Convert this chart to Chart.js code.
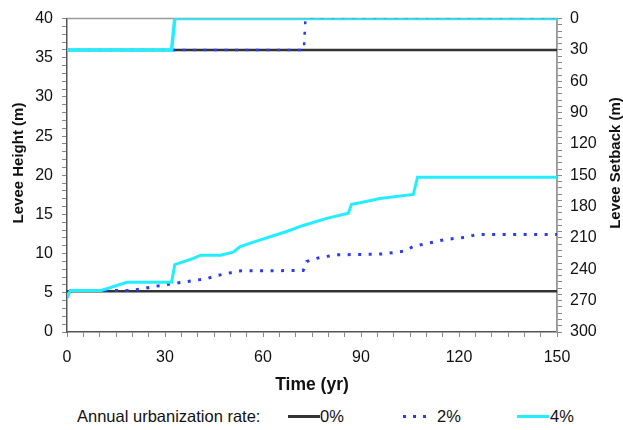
<!DOCTYPE html>
<html>
<head>
<meta charset="utf-8">
<script src="https://cdn.jsdelivr.net/npm/chart.js@4"></script>
<style>
  body { margin: 0; background: #fff; font-family: "Liberation Sans", Arial, sans-serif; }
  #wrap { position: relative; width: 623px; height: 430px; }
  #box { position: absolute; left: 0; top: 0; width: 623px; height: 400px; }
  .lg { position: absolute; font-size: 16.5px; color: #111; line-height: 20px; top: 406px; white-space: nowrap; }
  .sw { position: absolute; top: 415px; height: 2.5px; }
</style>
</head>
<body>
<div id="wrap">
  <div id="box"><canvas id="chart"></canvas></div>
  <span class="lg" style="left:77px">Annual urbanization rate:</span>
  <span class="sw" style="left:288px;width:32px;background:#333"></span>
  <span class="lg" style="left:320px">0%</span>
  <span class="sw" style="left:403px;width:26px;background:repeating-linear-gradient(to right,#2b3bef 0 3px,transparent 3px 10px)"></span>
  <span class="lg" style="left:437px">2%</span>
  <span class="sw" style="left:517px;width:32px;background:#22eeff"></span>
  <span class="lg" style="left:550px">4%</span>
</div>
<script>
// Levee height (m) vs time (yr), one pair of arrays per urbanization rate
const yearsH0 = [0, 150];
const height0 = [5.2, 5.2];

const yearsH2 = [0, 1, 13, 19.8, 22.8, 25.9, 32.5, 35.6, 39.2, 42.8, 45.8, 48.9, 52.4, 72.3, 73.4, 76.4, 79.5, 83, 96.3, 103, 106, 109, 112.4, 115.7, 119, 122.3, 125.4, 150];
const height2 = [4.4, 5.3, 5.3, 5.3, 5.5, 5.75, 6.2, 6.35, 6.6, 6.8, 7.2, 7.45, 7.8, 7.85, 9.0, 9.4, 9.65, 9.85, 9.95, 10.3, 10.9, 11.2, 11.5, 11.8, 11.95, 12.1, 12.45, 12.45];

const yearsH4 = [0, 1, 10.5, 18.3, 32, 33, 38.7, 40.9, 47, 50.9, 53, 58, 67, 72.3, 79.5, 86.1, 87.1, 89.7, 95.8, 106, 107.3, 150];
const height4 = [4.4, 5.3, 5.3, 6.35, 6.35, 8.6, 9.4, 9.8, 9.8, 10.2, 10.9, 11.6, 12.8, 13.6, 14.5, 15.15, 16.3, 16.5, 17.05, 17.55, 19.75, 19.75];

// Levee setback (m) vs time (yr)
const yearsS0 = [0, 150];
const setback0 = [30, 30];
const yearsS2 = [0, 72.5, 73, 150];
const setback2 = [30, 30, 0, 0];
const yearsS4 = [0, 32, 33, 150];
const setback4 = [30, 30, 0, 0];

const rateLabels = ['0%', '2%', '4%'];
const xTickLabels = [0, 30, 60, 90, 120, 150];

const black = '#333333';
const blue = '#2b3bef';
const cyan = '#22eeff';
const fontName = '"Liberation Sans", Arial, sans-serif';

function toPoints(xs, ys) {
    return xs.map((x, i) => ({ x: x, y: ys[i] }));
}

// Frame around the plot area and the two rotated axis titles
const framePlugin = {
    id: 'frame',
    beforeDatasetsDraw(chart) {
        const a = chart.chartArea;
        const ctx = chart.ctx;
        ctx.save();
        ctx.strokeStyle = '#9a9a9a';
        ctx.lineWidth = 1.5;
        ctx.beginPath();
        ctx.moveTo(a.left, a.top);
        ctx.lineTo(a.right, a.top);
        ctx.lineTo(a.right, a.bottom);
        ctx.stroke();
        ctx.restore();
    },
    afterDraw(chart) {
        const ctx = chart.ctx;
        ctx.save();
        ctx.fillStyle = '#111';
        ctx.font = 'bold 15px ' + fontName;
        ctx.textAlign = 'center';
        ctx.textBaseline = 'middle';
        ctx.translate(19, 163);
        ctx.rotate(-Math.PI / 2);
        ctx.fillText('Levee Height (m)', 0, 0);
        ctx.restore();
        ctx.save();
        ctx.fillStyle = '#111';
        ctx.font = 'bold 15px ' + fontName;
        ctx.textAlign = 'center';
        ctx.textBaseline = 'middle';
        ctx.translate(616, 163);
        ctx.rotate(-Math.PI / 2);
        ctx.fillText('Levee Setback (m)', 0, 0);
        ctx.restore();
    }
};

function lineSet(label, pts, color, axis, order, width, dash) {
    return {
        label: label,
        data: pts,
        yAxisID: axis,
        borderColor: color,
        backgroundColor: color,
        borderWidth: width,
        borderDash: dash,
        pointRadius: 0,
        tension: 0,
        fill: false,
        order: order
    };
}

const tickFont = { family: fontName, size: 16 };
const dots = [3, 7.5];

new Chart(document.getElementById('chart'), {
    type: 'line',
    data: {
        datasets: [
            lineSet(rateLabels[2], toPoints(yearsH4, height4), cyan, 'y', 0, 3, []),
            lineSet(rateLabels[1], toPoints(yearsH2, height2), blue, 'y', 1, 3, dots),
            lineSet(rateLabels[0], toPoints(yearsH0, height0), black, 'y', 2, 2.5, []),
            lineSet(rateLabels[2], toPoints(yearsS4, setback4), cyan, 'y1', 0, 3.5, []),
            lineSet(rateLabels[1], toPoints(yearsS2, setback2), blue, 'y1', 1, 2.5, dots),
            lineSet(rateLabels[0], toPoints(yearsS0, setback0), black, 'y1', 2, 2.5, [])
        ]
    },
    options: {
        responsive: true,
        maintainAspectRatio: false,
        animation: false,
        layout: { padding: { top: 16, left: 0, right: 0, bottom: 0 } },
        plugins: {
            legend: { display: false },
            tooltip: { enabled: false }
        },
        scales: {
            x: {
                type: 'linear',
                min: 0,
                max: 150,
                afterFit: s => { s.height = 68; },
                border: { color: '#555', width: 1.5 },
                grid: { drawOnChartArea: false, tickLength: 5, color: '#888' },
                ticks: {
                    stepSize: 5,
                    autoSkip: false,
                    maxRotation: 0,
                    padding: 11,
                    color: '#111',
                    font: tickFont,
                    callback: v => xTickLabels.includes(v) ? String(v) : ''
                },
                title: {
                    display: true,
                    text: 'Time (yr)',
                    color: '#111',
                    font: { family: fontName, size: 17.5, weight: 'bold' },
                    padding: { top: 4, bottom: 4 }
                }
            },
            y: {
                position: 'left',
                min: 0,
                max: 40,
                afterFit: s => { s.width = 67; },
                border: { color: '#555', width: 1.5 },
                grid: { drawOnChartArea: false, tickLength: 5, color: '#888' },
                ticks: {
                    stepSize: 1,
                    autoSkip: false,
                    padding: 9,
                    color: '#111',
                    font: tickFont,
                    callback: v => v % 5 === 0 ? String(v) : ''
                }
            },
            y1: {
                position: 'right',
                min: 0,
                max: 300,
                reverse: true,
                afterFit: s => { s.width = 66; },
                border: { color: '#9a9a9a', width: 1.5 },
                grid: { drawOnChartArea: false, tickLength: 5, color: '#888' },
                ticks: {
                    stepSize: 6,
                    autoSkip: false,
                    padding: 8,
                    color: '#111',
                    font: tickFont,
                    callback: v => v % 30 === 0 ? String(v) : ''
                }
            }
        }
    },
    plugins: [framePlugin]
});
</script>
</body>
</html>
